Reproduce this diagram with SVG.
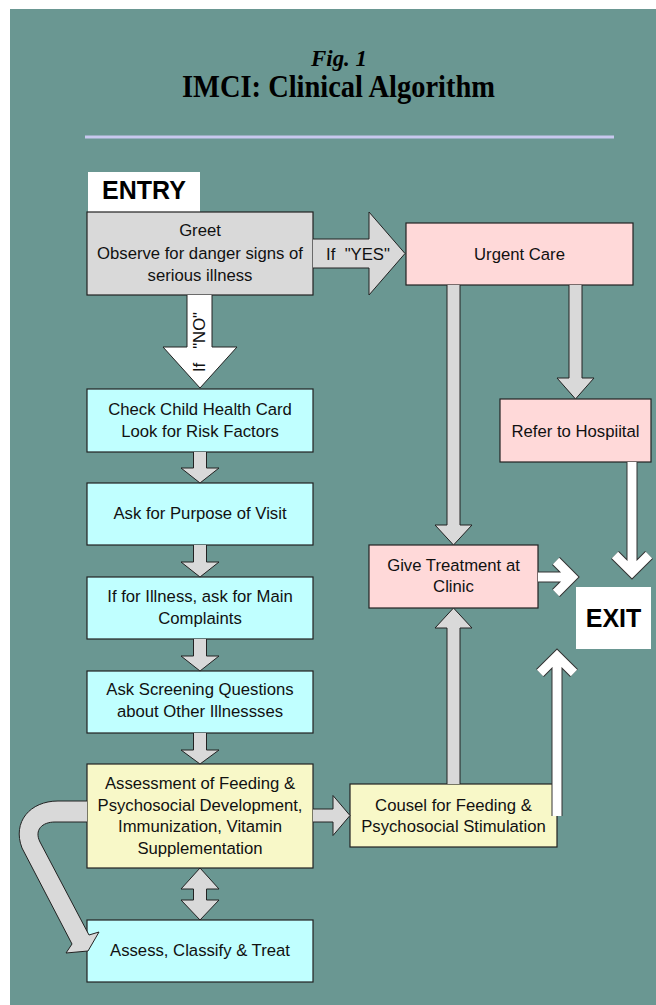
<svg xmlns="http://www.w3.org/2000/svg" width="656" height="1005" viewBox="0 0 656 1005">
<style>
.bg{fill:#6a9792}
.box{stroke:#222;stroke-width:1.2}
.gray{fill:#d9d9d9}
.cyan{fill:#c0ffff}
.pink{fill:#ffd9d9}
.yel{fill:#f8f8c8}
.wht{fill:#fff}
.t{font-family:"Liberation Sans",Arial,sans-serif;font-size:16.7px;fill:#111;text-anchor:middle}
.big{font-family:"Liberation Sans",Arial,sans-serif;font-size:25px;font-weight:bold;fill:#000;text-anchor:middle}
.ttl{font-family:"Liberation Serif","Times New Roman",serif;font-weight:bold;fill:#000;text-anchor:middle}
.blk{fill:#d9d9d9;stroke:#222;stroke-width:1;stroke-linejoin:miter}
.wb{fill:#fff;stroke:#222;stroke-width:1}
.wo{fill:none;stroke:#333;stroke-width:11;stroke-linejoin:miter;stroke-linecap:butt}
.wi{fill:none;stroke:#fff;stroke-width:9;stroke-linejoin:miter;stroke-linecap:butt}
</style>
<rect x="0" y="0" width="656" height="1005" fill="#fff"/>
<rect class="bg" x="10" y="9" width="646" height="996"/>
<g id="title">
<text class="ttl" x="339" y="66" font-size="24" font-style="italic" textLength="56" lengthAdjust="spacingAndGlyphs">Fig. 1</text>
<text class="ttl" x="338.5" y="97" font-size="31" textLength="313" lengthAdjust="spacingAndGlyphs">IMCI: Clinical Algorithm</text>
<line x1="85" y1="137" x2="614" y2="137" stroke="#c8c8ee" stroke-width="3"/>
</g>
<g id="entry"><rect class="wht" x="88" y="172" width="112" height="40"/><text class="big" x="144" y="199">ENTRY</text></g>
<g id="greet"><rect class="box gray" x="87" y="212" width="226" height="83"/>
<text class="t" x="200" y="236">Greet</text><text class="t" x="200" y="259">Observe for danger signs of</text><text class="t" x="200" y="281">serious illness</text></g>
<g id="urgent"><rect class="box pink" x="406" y="223" width="227" height="62"/><text class="t" x="519.5" y="260">Urgent Care</text></g>
<g id="refer"><rect class="box pink" x="500" y="399" width="151" height="63"/><text class="t" x="575.5" y="437">Refer to Hospiital</text></g>
<g id="check"><rect class="box cyan" x="87" y="389" width="226" height="63"/><text class="t" x="200" y="415">Check Child Health Card</text><text class="t" x="200" y="437">Look for Risk Factors</text></g>
<g id="purpose"><rect class="box cyan" x="87" y="483" width="226" height="62"/><text class="t" x="200" y="519">Ask for Purpose of Visit</text></g>
<g id="illness"><rect class="box cyan" x="87" y="577" width="226" height="62"/><text class="t" x="200" y="602">If for Illness, ask for Main</text><text class="t" x="200" y="624">Complaints</text></g>
<g id="screening"><rect class="box cyan" x="87" y="671" width="226" height="62"/><text class="t" x="200" y="695">Ask Screening Questions</text><text class="t" x="200" y="717">about Other Illnessses</text></g>
<g id="assessment"><rect class="box yel" x="87" y="764" width="226" height="104"/>
<text class="t" x="200" y="789">Assessment of Feeding &amp;</text><text class="t" x="200" y="810.5">Psychosocial Development,</text><text class="t" x="200" y="832">Immunization, Vitamin</text><text class="t" x="200" y="853.5">Supplementation</text></g>
<g id="classify"><rect class="box cyan" x="87" y="920" width="226" height="62"/><text class="t" x="200" y="956">Assess, Classify &amp; Treat</text></g>
<g id="cousel"><rect class="box yel" x="350" y="784" width="207" height="63"/><text class="t" x="453.5" y="811">Cousel for Feeding &amp;</text><text class="t" x="453.5" y="832">Psychosocial Stimulation</text></g>
<g id="give"><rect class="box pink" x="369" y="545" width="169" height="63"/><text class="t" x="453.5" y="571">Give Treatment at</text><text class="t" x="453.5" y="592">Clinic</text></g>
<g id="exit"><rect class="wht" x="576" y="587" width="75" height="62"/><text class="big" x="613.5" y="627">EXIT</text></g>
<g id="connectors">
<path class="blk" d="M313,239 H369 V212 L405,253.5 L369,295 V268 H313"/>
<text class="t" x="358" y="260" style="white-space:pre">If  "YES"</text>
<path class="wb" d="M187,295 V347 H163 L200,388 L237,347 H212 V295"/>
<text class="t" transform="translate(205,342) rotate(-90)" style="white-space:pre">If   "NO"</text>
<path class="blk" d="M193.5,452 V468 H181 L200,483 L219,468 H206.5 V452"/>
<path class="blk" d="M193.5,545 V562 H181 L200,577 L219,562 H206.5 V545"/>
<path class="blk" d="M193.5,639 V656 H181 L200,671 L219,656 H206.5 V639"/>
<path class="blk" d="M193.5,733 V750 H181 L200,764 L219,750 H206.5 V733"/>
<path class="blk" d="M200,868 L219,889 H206.5 V900 H219 L200,920 L181,900 H193.5 V889 H181 Z"/>
<path class="blk" d="M87,801 L58,801 C30,801 12,822 22,848 L72,944 L66,953 L88,951 L99,932 L89,935 L40,842 C34,830 42,822 55,822 L87,822"/>
<path class="blk" d="M313,809 H333 V795.5 L350,815.5 L333,835.5 V822 H313"/>
<path class="blk" d="M447,784 V628 H435 L453.5,608 L472,628 H460 V784"/>
<path class="blk" d="M447,285 V525 H435 L453.5,545 L472,525 H460 V285"/>
<path class="blk" d="M569,285 V378 H557 L575.5,399 L594,378 H582 V285"/>
<path class="wo" d="M632,462 V572 M615,555 L632,572 L649,555"/>
<path class="wi" d="M632,462 V572 M615,555 L632,572 L649,555"/>
<path class="wo" d="M538,577 H572 M556,561 L572,577 L556,593"/>
<path class="wi" d="M538,577 H572 M556,561 L572,577 L556,593"/>
<path class="wo" d="M557,816 V656 M540,673 L557,656 L574,673"/>
<path class="wi" d="M557,816 V656 M540,673 L557,656 L574,673"/>
</g>
</svg>
